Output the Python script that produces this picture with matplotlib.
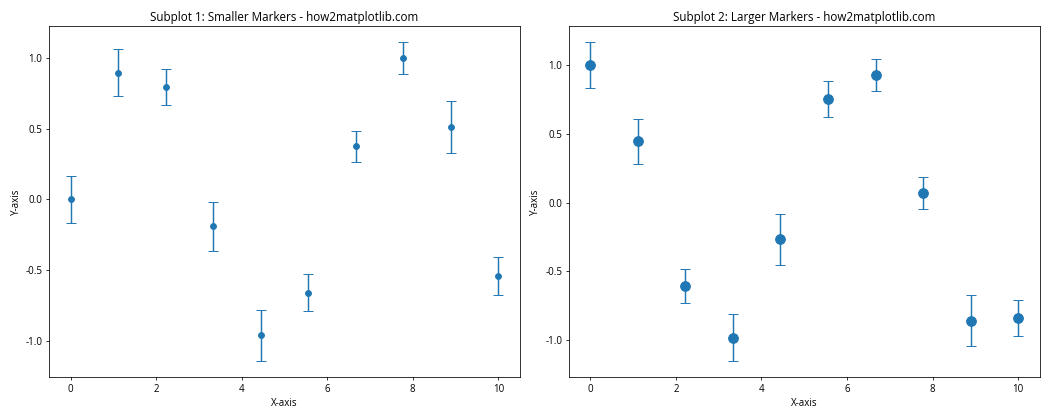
import numpy as np
import matplotlib.pyplot as plt

plt.rcParams['font.family'] = ['Open Sans', 'DejaVu Sans']
plt.rcParams['axes.unicode_minus'] = False

# x positions and values
x = [0.0, 1.11, 2.22, 3.33, 4.44, 5.56, 6.67, 7.78, 8.89, 10.0]
y1 = [0.0, 0.896, 0.795, -0.190, -0.964, -0.662, 0.374, 0.999, 0.510, -0.544]
err1 = [0.166, 0.166, 0.125, 0.173, 0.180, 0.132, 0.112, 0.112, 0.184, 0.132]
y2 = [1.0, 0.445, -0.607, -0.982, -0.266, 0.750, 0.929, 0.067, -0.860, -0.839]
err2 = [0.166, 0.164, 0.127, 0.170, 0.186, 0.131, 0.117, 0.117, 0.186, 0.131]

fig, (ax1, ax2) = plt.subplots(1, 2, figsize=(15, 6), dpi=70)

ax1.errorbar(x, y1, yerr=err1, fmt='o', capsize=5, markersize=6)
ax1.set_title('Subplot 1: Smaller Markers - how2matplotlib.com')
ax1.set_xlabel('X-axis')
ax1.set_ylabel('Y-axis')

ax2.errorbar(x, y2, yerr=err2, fmt='o', capsize=5, markersize=10)
ax2.set_title('Subplot 2: Larger Markers - how2matplotlib.com')
ax2.set_xlabel('X-axis')
ax2.set_ylabel('Y-axis')

plt.tight_layout()
plt.savefig('out.png')
